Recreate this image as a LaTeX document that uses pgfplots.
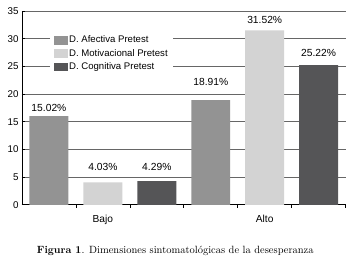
\documentclass[border=0pt]{standalone}
\usepackage{pgfplots}
\pgfplotsset{compat=1.18}
\usepackage{fontspec}
\setsansfont{Liberation Sans}
\definecolor{cA}{HTML}{939393}
\definecolor{cM}{HTML}{D3D3D3}
\definecolor{cC}{HTML}{555557}
\begin{document}
\begin{tikzpicture}[font=\sffamily]
\begin{axis}[
  scale only axis,
  width=324pt, height=194pt,
  xmin=0, xmax=6, ymin=0, ymax=35,
  axis x line*=bottom, axis y line*=left,
  axis line style={black, line width=0.8pt},
  ytick={0,5,...,35},
  xtick={1.5,4.5}, xticklabels={Bajo,Alto},
  minor xtick={1,2,3,4,5,6},
  major x tick style={draw=none},
  minor x tick style={black, line width=0.6pt},
  minor tick length=3pt,
  y tick style={black, line width=0.6pt},
  major tick length=3pt,
  tick align=inside,
  ymajorgrids,
  grid style={black!60, line width=0.7pt},
  /pgf/number format/assume math mode=true,
  y tick label style={font=\sffamily\fontsize{9.8}{11}\selectfont},
  x tick label style={font=\sffamily\fontsize{10.2}{11}\selectfont, yshift=-4pt},
  ybar, bar width=39pt, bar shift=0pt,
  legend style={at={(0.0864,0.888)}, anchor=north west, draw=none, fill=white,
    font=\sffamily\fontsize{9.6}{10}\selectfont, row sep=3pt, inner xsep=4pt, inner ysep=2pt,
    nodes={inner sep=1pt}},
  legend cell align=left,
  legend image code/.code={\fill[#1] (0pt,-4.5pt) rectangle (14pt,4.5pt);},
]
\addplot[fill=cA, draw=none] coordinates {(0.5,16) (3.5,18.91)};
\addplot[fill=cM, draw=none] coordinates {(1.5,4.03) (4.5,31.52)};
\addplot[fill=cC, draw=none] coordinates {(2.5,4.29) (5.5,25.22)};
\legend{D. Afectiva Pretest, D. Motivacional Pretest, D. Cognitiva Pretest}
\begin{scope}[every node/.style={font=\sffamily\fontsize{10.3}{11}\selectfont}]
\node at (axis cs:0.5,17.5) {15.02\%};
\node at (axis cs:3.5,22.2) {18.91\%};
\node at (axis cs:1.5,6.9) {4.03\%};
\node at (axis cs:4.5,33.4) {31.52\%};
\node at (axis cs:2.5,6.9) {4.29\%};
\node at (axis cs:5.5,27.4) {25.22\%};
\end{scope}
\end{axis}
\node[font=\rmfamily\fontsize{10.5}{12}\selectfont, anchor=center] at ([xshift=-8.5pt,yshift=-46pt]current axis.south) {\textbf{Figura 1}. Dimensiones sintomatológicas de la desesperanza};
\path ([xshift=-22pt,yshift=-55pt]current axis.south west) rectangle ([yshift=11pt]current axis.north east);
\end{tikzpicture}
\end{document}
